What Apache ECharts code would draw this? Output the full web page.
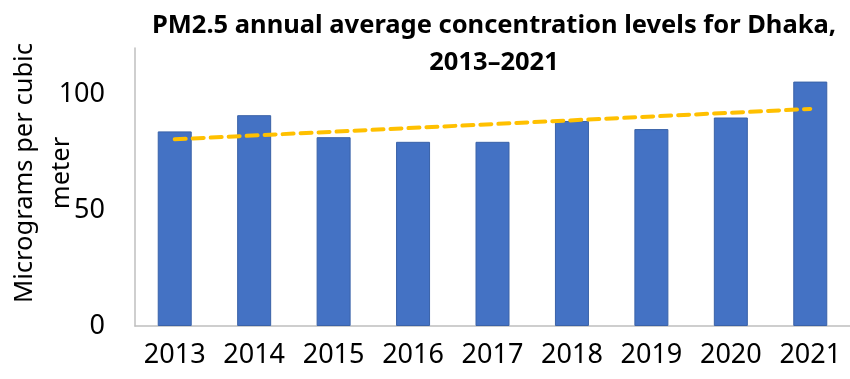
<!DOCTYPE html>
<html>
<head>
<meta charset="utf-8">
<script src="https://cdn.jsdelivr.net/npm/echarts@6/dist/echarts.min.js"></script>
<style>html,body{margin:0;padding:0;background:#fff}#c{width:850px;height:379px}</style>
</head>
<body>
<div id="c"></div>
<script>
const years = ['2013','2014','2015','2016','2017','2018','2019','2020','2021'];
const pm25 = [84, 91, 81.5, 79.5, 79.5, 88.5, 85, 90, 105.5];
// linear trendline (first and last year)
const trendStart = 80.6;
const trendEnd = 93.7;
const yTicks = [0, 50, 100];
const titleText = 'PM2.5 annual average concentration levels for Dhaka,\n2013\u20132021';
const yName = 'Micrograms per cubic\nmeter';

const trend = years.map((_, i) => i === 0 ? trendStart : (i === years.length - 1 ? trendEnd : null));
const font = '"Noto Sans", "Open Sans", sans-serif';

const chart = echarts.init(document.getElementById('c'), null, {renderer: 'canvas'});
chart.setOption({
  animation: false,
  title: {
    text: titleText,
    left: 489, top: 2, textAlign: 'center',
    textStyle: {fontFamily: font, fontWeight: 'bold', fontSize: 25.5, lineHeight: 37, color: '#000'}
  },
  grid: {left: 135, top: 48, width: 720, height: 278, containLabel: false},
  xAxis: {
    type: 'category', data: years,
    axisLine: {show: true, lineStyle: {color: '#BFBFBF', width: 1.5}},
    axisTick: {show: false},
    axisLabel: {fontFamily: font, fontSize: 27, color: '#000', margin: 16, interval: 0}
  },
  yAxis: {
    type: 'value', min: 0, max: 120, interval: 50,
    axisLine: {show: true, lineStyle: {color: '#BFBFBF', width: 1.5}},
    axisTick: {show: false},
    splitLine: {show: false},
    axisLabel: {fontFamily: font, fontSize: 27, color: '#000', margin: 30, showMaxLabel: false,
      formatter: v => yTicks.includes(v) ? String(v) : ''}
  },
  graphic: [{
    type: 'text', x: 43, y: 173, rotation: Math.PI / 2,
    style: {text: yName, fontFamily: font, fontSize: 25.5, lineHeight: 37, fill: '#000',
      textAlign: 'center', textVerticalAlign: 'middle'}
  }],
  series: [{
    type: 'bar', data: pm25, barWidth: 34,
    itemStyle: {color: '#4472C4', borderColor: '#3A62A8', borderWidth: 1}
  }, {
    type: 'line', data: trend, connectNulls: true, symbol: 'none', z: 5,
    lineStyle: {color: '#FFC000', width: 4, type: [11, 7], cap: 'round'}
  }]
});
</script>
</body>
</html>
